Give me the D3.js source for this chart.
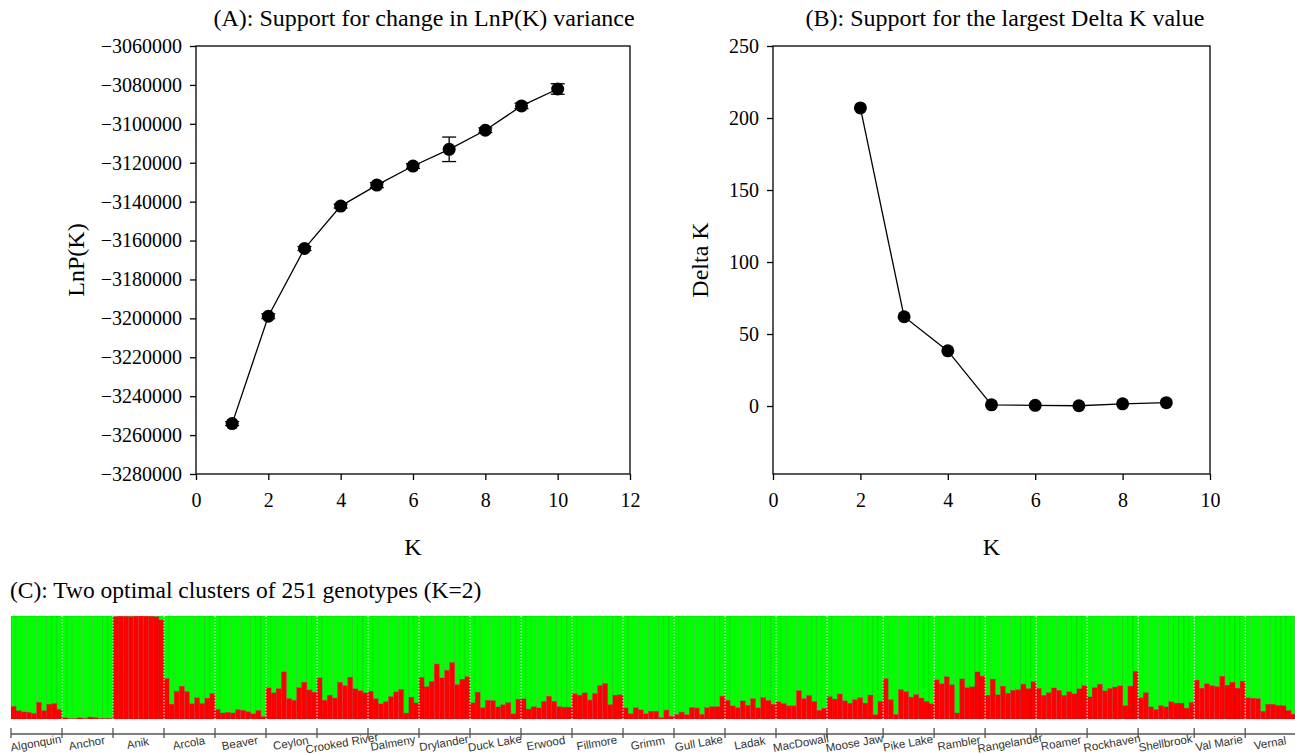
<!DOCTYPE html>
<html>
<head>
<meta charset="utf-8">
<script src="https://cdn.jsdelivr.net/npm/d3@7.9.0/dist/d3.min.js"></script>
<style>
  body { margin: 0; background: #fff; }
  svg { display: block; }
</style>
</head>
<body>
<svg id="chart"></svg>
<script>
// (A) mean LnP(K) and its sd for each K
const kA = [1, 2, 3, 4, 5, 6, 7, 8, 9, 10];
const lnpMean = [-3254100, -3198900, -3164100, -3142300, -3131500, -3121700, -3113100, -3103300, -3090800, -3082100];
const lnpSd = [1000, 1200, 1000, 1000, 1300, 1200, 6300, 1200, 1400, 2700];
const lnpTicks = [-3280000, -3260000, -3240000, -3220000, -3200000, -3180000, -3160000, -3140000, -3120000, -3100000, -3080000, -3060000];

// (B) Delta K
const kB = [2, 3, 4, 5, 6, 7, 8, 9];
const deltaK = [207, 62, 38.3, 0.8, 0.5, 0.2, 1.5, 2.3];
const deltaTicks = [0, 50, 100, 150, 200, 250];

// (C) cluster membership (red share) per genotype
const groups = ["Algonquin", "Anchor", "Anik", "Arcola", "Beaver", "Ceylon", "Crooked River", "Dalmeny", "Drylander",
  "Duck Lake", "Erwood", "Fillmore", "Grimm", "Gull Lake", "Ladak", "MacDowall", "Moose Jaw", "Pike Lake", "Rambler",
  "Rangelander", "Roamer", "Rockhaven", "Shellbrook", "Val Marie", "Vernal"];
const groupSizes = [10, 10, 10, 10, 10, 10, 10, 10, 10, 10, 10, 10, 10, 10, 10, 10, 11, 10, 10, 10, 10, 10, 11, 10, 10];
const redShare = [
  0.123, 0.080, 0.068, 0.065, 0.055, 0.162, 0.081, 0.143, 0.151, 0.094,   // Algonquin
  0.012, 0.005, 0.005, 0.012, 0.006, 0.019, 0.015, 0.006, 0.006, 0.006,   // Anchor
  0.995, 0.998, 0.997, 0.995, 0.998, 0.999, 0.998, 0.997, 0.993, 0.961,   // Anik
  0.393, 0.144, 0.269, 0.318, 0.267, 0.149, 0.206, 0.151, 0.202, 0.248,   // Arcola
  0.094, 0.058, 0.065, 0.058, 0.091, 0.084, 0.071, 0.049, 0.084, 0.024,   // Beaver
  0.302, 0.253, 0.295, 0.457, 0.199, 0.182, 0.305, 0.357, 0.282, 0.260,   // Ceylon
  0.399, 0.182, 0.231, 0.203, 0.357, 0.323, 0.406, 0.293, 0.276, 0.253,   // Crooked River
  0.270, 0.198, 0.146, 0.170, 0.217, 0.263, 0.288, 0.057, 0.212, 0.156,   // Dalmeny
  0.405, 0.314, 0.366, 0.533, 0.398, 0.473, 0.548, 0.334, 0.386, 0.412,   // Drylander
  0.157, 0.260, 0.109, 0.182, 0.179, 0.117, 0.138, 0.159, 0.049, 0.192,   // Duck Lake
  0.196, 0.096, 0.119, 0.107, 0.172, 0.221, 0.172, 0.120, 0.115, 0.115,   // Erwood
  0.245, 0.231, 0.253, 0.183, 0.248, 0.326, 0.345, 0.140, 0.231, 0.234,   // Fillmore
  0.107, 0.052, 0.110, 0.088, 0.049, 0.075, 0.075, 0.012, 0.086, 0.026,   // Grimm
  0.044, 0.067, 0.043, 0.112, 0.106, 0.045, 0.110, 0.120, 0.120, 0.221,   // Gull Lake
  0.182, 0.127, 0.108, 0.175, 0.133, 0.198, 0.107, 0.208, 0.180, 0.143,   // Ladak
  0.166, 0.151, 0.128, 0.128, 0.276, 0.199, 0.229, 0.169, 0.084, 0.104,   // MacDowall
  0.218, 0.193, 0.242, 0.177, 0.153, 0.188, 0.207, 0.154, 0.232, 0.042, 0.172,   // Moose Jaw
  0.393, 0.188, 0.045, 0.286, 0.266, 0.212, 0.238, 0.203, 0.172, 0.148,   // Pike Lake
  0.380, 0.341, 0.410, 0.332, 0.058, 0.389, 0.305, 0.313, 0.457, 0.416,   // Rambler
  0.231, 0.387, 0.234, 0.318, 0.250, 0.279, 0.284, 0.338, 0.295, 0.363,   // Rangelander
  0.298, 0.230, 0.256, 0.301, 0.278, 0.230, 0.264, 0.244, 0.293, 0.325,   // Roamer
  0.214, 0.305, 0.338, 0.273, 0.297, 0.310, 0.321, 0.130, 0.319, 0.464,   // Rockhaven
  0.205, 0.256, 0.117, 0.092, 0.130, 0.117, 0.167, 0.154, 0.154, 0.105, 0.162,   // Shellbrook
  0.377, 0.299, 0.341, 0.323, 0.315, 0.415, 0.328, 0.357, 0.299, 0.367,   // Val Marie
  0.206, 0.201, 0.198, 0.075, 0.143, 0.143, 0.133, 0.130, 0.083, 0.047    // Vernal
];

const W = 1295, H = 754;
const serif = "'Liberation Serif', 'Times New Roman', serif";
const sans = "'Liberation Sans', Arial, sans-serif";

const svg = d3.select("#chart").attr("width", W).attr("height", H);

function drawPanel(o) {
  const g = svg.append("g");
  const x = d3.scaleLinear().domain(o.xDomain).range([o.left, o.right]);
  const y = d3.scaleLinear().domain(o.yDomain).range([o.bottom, o.top]);

  // x axis
  const xa = g.append("g")
    .attr("transform", `translate(0, ${o.bottom})`)
    .call(d3.axisBottom(x).tickValues(o.xTicks).tickSize(6).tickSizeOuter(0).tickPadding(13));
  xa.select(".domain").remove();
  xa.selectAll("line").attr("stroke", "#000").attr("stroke-width", 1.3);
  xa.selectAll("text").attr("font-family", serif).attr("font-size", "20px").attr("fill", "#000");

  // y axis
  const ya = g.append("g")
    .attr("transform", `translate(${o.left}, 0)`)
    .call(d3.axisLeft(y).tickValues(o.yTicks).tickSize(6).tickSizeOuter(0).tickPadding(8).tickFormat(d3.format("d")));
  ya.select(".domain").remove();
  ya.selectAll("line").attr("stroke", "#000").attr("stroke-width", 1.3);
  ya.selectAll("text").attr("font-family", serif).attr("font-size", "20px").attr("fill", "#000");

  // frame
  g.append("rect")
    .attr("x", o.left).attr("y", o.top)
    .attr("width", o.right - o.left).attr("height", o.bottom - o.top)
    .attr("fill", "none").attr("stroke", "#000").attr("stroke-width", 1.3);

  const pts = o.xs.map((k, i) => ({ k, v: o.ys[i], sd: o.sd ? o.sd[i] : 0 }));

  g.append("path")
    .datum(pts)
    .attr("fill", "none").attr("stroke", "#000").attr("stroke-width", 1.3)
    .attr("d", d3.line().x(d => x(d.k)).y(d => y(d.v)));

  if (o.sd) {
    const eb = g.selectAll(".eb").data(pts).join("g").attr("class", "eb");
    eb.append("line")
      .attr("x1", d => x(d.k)).attr("x2", d => x(d.k))
      .attr("y1", d => y(d.v - d.sd)).attr("y2", d => y(d.v + d.sd))
      .attr("stroke", "#000").attr("stroke-width", 1.3);
    eb.append("line")
      .attr("x1", d => x(d.k) - 7).attr("x2", d => x(d.k) + 7)
      .attr("y1", d => y(d.v + d.sd)).attr("y2", d => y(d.v + d.sd))
      .attr("stroke", "#000").attr("stroke-width", 1.3);
    eb.append("line")
      .attr("x1", d => x(d.k) - 7).attr("x2", d => x(d.k) + 7)
      .attr("y1", d => y(d.v - d.sd)).attr("y2", d => y(d.v - d.sd))
      .attr("stroke", "#000").attr("stroke-width", 1.3);
  }

  g.selectAll(".pt").data(pts).join("circle")
    .attr("class", "pt")
    .attr("cx", d => x(d.k)).attr("cy", d => y(d.v))
    .attr("r", 6.5).attr("fill", "#000");

  // titles and labels
  g.append("text")
    .attr("x", o.titleX).attr("y", 26)
    .attr("text-anchor", "middle")
    .attr("font-family", serif).attr("font-size", "24px")
    .text(o.title);

  g.append("text")
    .attr("x", (o.left + o.right) / 2).attr("y", 555)
    .attr("text-anchor", "middle")
    .attr("font-family", serif).attr("font-size", "24px")
    .text("K");

  g.append("text")
    .attr("transform", `translate(${o.yLabelX}, ${(o.top + o.bottom) / 2}) rotate(-90)`)
    .attr("text-anchor", "middle")
    .attr("font-family", serif).attr("font-size", "24px")
    .text(o.yLabel);
}

drawPanel({
  left: 196, right: 630, top: 46, bottom: 474,
  xDomain: [0, 12], yDomain: [-3280000, -3060000],
  xTicks: [0, 2, 4, 6, 8, 10, 12], yTicks: lnpTicks,
  xs: kA, ys: lnpMean, sd: lnpSd,
  title: "(A): Support for change in LnP(K) variance", titleX: 424,
  yLabel: "LnP(K)", yLabelX: 84
});

drawPanel({
  left: 773, right: 1210, top: 46, bottom: 474,
  xDomain: [0, 10], yDomain: [-47.2, 250],
  xTicks: [0, 2, 4, 6, 8, 10], yTicks: deltaTicks,
  xs: kB, ys: deltaK, sd: null,
  title: "(B): Support for the largest Delta K value", titleX: 1005,
  yLabel: "Delta K", yLabelX: 708
});

// (C) structure bar plot
const n = redShare.length;
const xC = d3.scaleBand().domain(d3.range(n)).range([11, 11 + n * 5.1]).paddingInner(0).paddingOuter(0);
const yC = d3.scaleLinear().domain([0, 1]).range([719, 616]);

svg.append("text")
  .attr("x", 10).attr("y", 598)
  .attr("font-family", serif).attr("font-size", "23.5px")
  .text("(C): Two optimal clusters of 251 genotypes (K=2)");

const c = svg.append("g");
const bars = redShare.map((v, i) => ({ i, v }));

c.selectAll(".green").data(bars).join("rect")
  .attr("class", "green")
  .attr("x", d => xC(d.i)).attr("width", xC.bandwidth())
  .attr("y", yC(1)).attr("height", d => yC(d.v) - yC(1))
  .attr("fill", "#00ff00")
  .attr("stroke", "rgba(0,0,0,0.2)").attr("stroke-width", 0.5);

c.selectAll(".red").data(bars).join("rect")
  .attr("class", "red")
  .attr("x", d => xC(d.i)).attr("width", xC.bandwidth())
  .attr("y", d => yC(d.v)).attr("height", d => yC(0) - yC(d.v))
  .attr("fill", "#ff0000")
  .attr("stroke", "rgba(0,0,0,0.2)").attr("stroke-width", 0.5);

// group boundaries
const starts = [0];
groupSizes.forEach(s => starts.push(starts[starts.length - 1] + s));
const bw = xC.bandwidth();
const edgeX = i => xC.range()[0] + i * bw;

c.selectAll(".sep").data(starts.slice(1, -1)).join("line")
  .attr("class", "sep")
  .attr("x1", d => edgeX(d)).attr("x2", d => edgeX(d))
  .attr("y1", yC(1)).attr("y2", yC(0))
  .attr("stroke", "#fff").attr("stroke-width", 1)
  .attr("stroke-dasharray", "1.5,1.5");

// bottom axis with group names
const axY = 734;
c.append("line")
  .attr("x1", edgeX(0)).attr("x2", edgeX(n))
  .attr("y1", axY).attr("y2", axY)
  .attr("stroke", "#555").attr("stroke-width", 1.3);

c.selectAll(".gtick").data(starts).join("line")
  .attr("class", "gtick")
  .attr("x1", d => edgeX(d)).attr("x2", d => edgeX(d))
  .attr("y1", axY - 6).attr("y2", axY + 4)
  .attr("stroke", "#555").attr("stroke-width", 1.3);

c.selectAll(".glabel").data(groups).join("text")
  .attr("class", "glabel")
  .attr("transform", (d, i) => {
    const cx = (edgeX(starts[i]) + edgeX(starts[i + 1])) / 2;
    return `translate(${cx}, 747) rotate(-10)`;
  })
  .attr("text-anchor", "middle")
  .attr("font-family", sans).attr("font-size", "11.5px")
  .attr("fill", "#333")
  .text(d => d);
</script>
</body>
</html>
